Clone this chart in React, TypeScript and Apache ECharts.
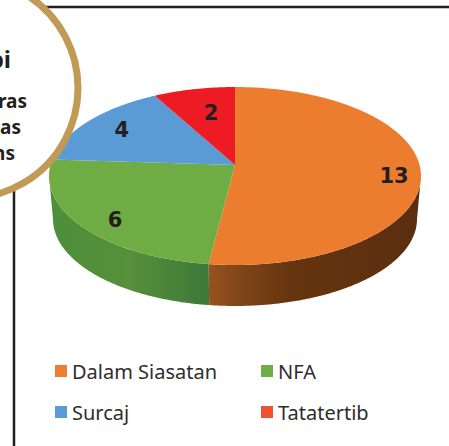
import React, { useEffect, useRef } from "react";
import * as echarts from "echarts";

const categories = ["Dalam Siasatan", "NFA", "Surcaj", "Tatatertib"];
const values = [13, 6, 4, 2];
const topColors = ["#ec7d2f", "#6fad44", "#5b9bd5", "#ed1c24"];
const legendColors = ["#ed7d31", "#70ad47", "#5b9bd5", "#f0512f"];
const sideStops: [number, string][][] = [
  [[0, "#97531f"], [0.17, "#7d4318"], [0.38, "#66350f"], [1, "#5a2e10"]],
  [[0, "#4d8f39"], [0.5, "#578f3a"], [1, "#3e7839"]],
  [[0, "#3b6f96"], [1, "#3b6f96"]],
  [[0, "#90141a"], [1, "#90141a"]],
];
const labelAnchors = [
  [0.855, 0.0],
  [-0.645, 0.495],
  [-0.608, -0.52],
  [-0.129, -0.71],
];
const legendSlots = [
  [55, 361],
  [261, 361],
  [55, 402],
  [261, 402],
];
const calloutWords = [
  { text: "bi", x: 11, y: 58, size: 24 },
  { text: "ras", x: 27, y: 101, size: 19 },
  { text: "as", x: 21, y: 127, size: 19 },
  { text: "ns", x: 15, y: 153, size: 19 },
];

const CX = 235;
const TOP = { cy: 176, rx: 186, ry: 89 };
const BOTTOM = { cy: 219, rx: 182, ry: 87 };
const K = -0.124;
const SIDE_FROM = 97.1;
const SIDE_TO = 262.9;
const FONT = '"Noto Sans", sans-serif';
const LABEL_FONT = '"DejaVu Sans", sans-serif';

function project(deg: number, e: { cy: number; rx: number; ry: number }): number[] {
  const a = (deg * Math.PI) / 180;
  const u = Math.sin(a);
  const v = -Math.cos(a);
  const d = 1 + K * v;
  const nx = (u * Math.sqrt(1 - K * K)) / d;
  const ny = (v + K) / d;
  return [CX + e.rx * nx, e.cy + e.ry * ny];
}

function arc(from: number, to: number, e: { cy: number; rx: number; ry: number }): number[][] {
  const pts: number[][] = [];
  const n = Math.max(2, Math.ceil(Math.abs(to - from) * 2));
  for (let i = 0; i <= n; i++) pts.push(project(from + ((to - from) * i) / n, e));
  return pts;
}

const total = values.reduce((s, v) => s + v, 0);

function sliceRange(index: number): [number, number] {
  let before = 0;
  for (let i = 0; i < index; i++) before += values[i];
  return [(before / total) * 360, ((before + values[index]) / total) * 360];
}

function renderSlice(index: number) {
  return (_params: any, api: any) => {
    const [a0, a1] = sliceRange(index);
    const children: any[] = [];
    const s0 = Math.max(a0, SIDE_FROM);
    const s1 = Math.min(a1, SIDE_TO);
    if (s1 > s0) {
      const side = arc(s0, s1, TOP).concat(arc(s0, s1, BOTTOM).reverse());
      children.push({
        type: "polygon",
        shape: { points: side },
        style: {
          fill: new echarts.graphic.LinearGradient(
            0, 0, 1, 0,
            sideStops[index].map(([offset, color]) => ({ offset, color })),
          ),
        },
      });
    }
    const apex = [CX, TOP.cy + TOP.ry * K];
    children.push({
      type: "polygon",
      shape: { points: [apex].concat(arc(a0, a1, TOP)) },
      style: { fill: topColors[index] },
    });
    children.push({
      type: "text",
      x: CX + TOP.rx * labelAnchors[index][0],
      y: TOP.cy + TOP.ry * labelAnchors[index][1],
      style: {
        text: String(api.value(0)),
        fill: "#231f20",
        fontFamily: LABEL_FONT,
        fontWeight: "bold",
        fontSize: 21,
        textAlign: "center",
        textVerticalAlign: "middle",
      },
    });
    return { type: "group", children };
  };
}

export default function App() {
  const ref = useRef<HTMLDivElement>(null);
  useEffect(() => {
    document.body.style.background = "#ffffff";
    const chart = echarts.init(ref.current!, undefined, { renderer: "svg" });
    chart.setOption({
      animation: false,
      backgroundColor: "#ffffff",
      legend: categories.map((name, i) => ({
        left: legendSlots[i][0],
        top: legendSlots[i][1],
        padding: 0,
        icon: "rect",
        itemWidth: 12,
        itemHeight: 12,
        selectedMode: false,
        data: [{ name, itemStyle: { color: legendColors[i] } }],
        textStyle: { fontFamily: FONT, fontSize: 20, color: "#2f2c2d" },
      })),
      series: categories.map((name, i) => ({
        type: "custom",
        name,
        coordinateSystem: "none",
        itemStyle: { color: legendColors[i] },
        renderItem: renderSlice(i),
        data: [[values[i]]],
      })),
      graphic: {
        elements: [
          { type: "line", z: 20, shape: { x1: 45, y1: 7, x2: 449, y2: 7 }, style: { stroke: "#231f20", lineWidth: 2.5 } },
          { type: "line", z: 20, shape: { x1: 14, y1: 170, x2: 14, y2: 446 }, style: { stroke: "#231f20", lineWidth: 2.5 } },
          {
            type: "circle",
            z: 21,
            shape: { cx: -32, cy: 88, r: 110 },
            style: { fill: "#ffffff", stroke: "#c19a56", lineWidth: 7 },
          },
          ...calloutWords.map((w) => ({
            type: "text",
            z: 22,
            x: w.x,
            y: w.y,
            style: {
              text: w.text,
              fill: "#231f20",
              fontFamily: FONT,
              fontWeight: "bold",
              fontSize: w.size,
              textAlign: "right",
              textVerticalAlign: "middle",
            },
          })),
        ],
      },
    });
    return () => chart.dispose();
  }, []);
  return <div ref={ref} style={{ position: "absolute", left: 0, top: 0, width: 449, height: 446 }} />;
}
